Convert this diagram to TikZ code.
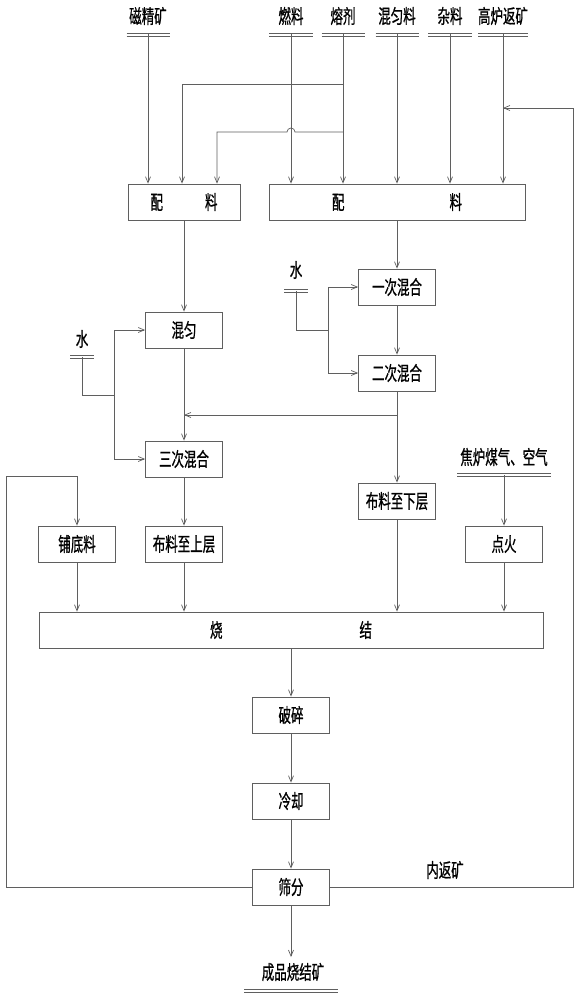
\documentclass[tikz,border=0pt]{standalone}
\usepackage{fontspec}
\newfontfamily\cjk[FakeStretch=0.64,FakeBold=0.8]{Noto Sans CJK SC}
\usetikzlibrary{arrows.meta}
\definecolor{linegray}{RGB}{95,95,95}
\newcommand\dblbar[2]{%
  \draw[link] ([xshift=-#2pt,yshift=1.6pt]#1) -- ([xshift=#2pt,yshift=1.6pt]#1)
              ([xshift=-#2pt,yshift=-1.6pt]#1) -- ([xshift=#2pt,yshift=-1.6pt]#1);}
\begin{document}
\begin{tikzpicture}[x=1pt,y=-1pt,
  box/.style={draw=linegray,line width=0.8pt,minimum height=36pt,minimum width=77pt,inner sep=0pt,font=\cjk\fontsize{19.5}{21}\selectfont},
  lbl/.style={inner sep=0pt,font=\cjk\fontsize{19.5}{21}\selectfont},
  link/.style={draw=linegray,line width=0.7pt},
  flow/.style={link,-{Straight Barb[length=6pt,width=5pt]}},
]
\useasboundingbox (0,0) rectangle (579,1000);
\fill[white] (0,0) rectangle (579,1000);

% boxes
\node[box,minimum width=112pt] (pj1) at (184,202) {配\hspace{42pt}料};
\node[box,minimum width=256pt] (pj2) at (397,202) {配\hspace{105pt}料};
\node[box] (mix1) at (397,287) {一次混合};
\node[box] (mix2) at (397,373) {二次混合};
\node[box] (hy) at (184,330) {混匀};
\node[box] (mix3) at (184,459) {三次混合};
\node[box] (bxc) at (397,501) {布料至下层};
\node[box] (pdl) at (77,544) {铺底料};
\node[box] (bsc) at (184,544) {布料至上层};
\node[box] (dh) at (504,544) {点火};
\node[box,minimum width=504pt] (sj) at (291,630) {烧\hspace{137pt}结};
\node[box] (ps) at (291,715) {破碎};
\node[box] (lq) at (291,801) {冷却};
\node[box] (sf) at (291,887) {筛分};

% input labels
\node[lbl] (t1) at (148,16) {磁精矿};
\node[lbl] (t2) at (291,16) {燃料};
\node[lbl] (t3) at (343,16) {熔剂};
\node[lbl] (t4) at (397,16) {混匀料};
\node[lbl] (t5) at (450,16) {杂料};
\node[lbl] (t6) at (503,16) {高炉返矿};
\coordinate (b1) at (148,34.5);
\coordinate (b2) at (291,34.5);
\coordinate (b3) at (343,34.5);
\coordinate (b4) at (397,34.5);
\coordinate (b5) at (450,34.5);
\coordinate (b6) at (503,34.5);
\dblbar{b1}{21.5}
\dblbar{b2}{22}
\dblbar{b3}{21.5}
\dblbar{b4}{21.5}
\dblbar{b5}{22}
\dblbar{b6}{25}

\draw[flow] (b1) -- (b1 |- pj1.north);
\draw[flow] (b2) -- (b2 |- pj2.north);
\draw[flow] (b3) -- (b3 |- pj2.north);
\draw[flow] (b4) -- (b4 |- pj2.north);
\draw[flow] (b5) -- (b5 |- pj2.north);
\draw[flow] (b6) -- (b6 |- pj2.north);

% flux branches
\coordinate (k1) at (343,84);
\coordinate (k2) at (343,132);
\coordinate (a1) at (182,84);
\coordinate (a2) at (217,132);
\draw[flow] (k1) -- (a1) -- (a1 |- pj1.north);
\draw[flow] (k2) -- ([xshift=4pt]k2 -| b2) arc[start angle=0,end angle=-180,radius=4] -- (a2) -- (a2 |- pj1.north);

% water labels
\node[lbl] (w1) at (82,339) {水};
\coordinate (w1b) at (82,357);
\dblbar{w1b}{12}
\coordinate (j1) at (114,395);
\draw[link] (w1b) |- (j1);
\draw[flow] (j1) |- (hy.west);
\draw[flow] (j1) |- (mix3.west);

\node[lbl] (w2) at (296,270) {水};
\coordinate (w2b) at (296,291);
\dblbar{w2b}{12}
\coordinate (j2) at (328,330);
\draw[link] (w2b) |- (j2);
\draw[flow] (j2) |- (mix1.west);
\draw[flow] (j2) |- (mix2.west);

% main flows
\draw[flow] (pj1.south) -- (hy.north);
\draw[flow] (pj2.south) -- (mix1.north);
\draw[flow] (mix1) -- (mix2);
\draw[flow] (hy) -- (mix3);
\draw[flow] (mix2) -- (bxc);
\coordinate (m2j) at (397,415);
\draw[flow] (m2j) -- (m2j -| hy.south);
\draw[flow] (mix3) -- (bsc);
\draw[flow] (pdl.south) -- (pdl.south |- sj.north);
\draw[flow] (bsc.south) -- (bsc.south |- sj.north);
\draw[flow] (bxc.south) -- (bxc.south |- sj.north);
\draw[flow] (dh.south) -- (dh.south |- sj.north);

% gas
\node[lbl] (gas) at (504,457) {焦炉煤气、空气};
\coordinate (gb) at (504,475);
\dblbar{gb}{47}
\draw[flow] (gb) -- (dh.north);

\draw[flow] (sj.south -| ps.north) -- (ps.north);
\draw[flow] (ps) -- (lq);
\draw[flow] (lq) -- (sf);

% product
\node[lbl] (prod) at (293,972) {成品烧结矿};
\coordinate (pb) at (291,991);
\dblbar{pb}{47}
\coordinate (pe) at (291,957);
\draw[flow] (sf.south) -- (pe);

% returns
\coordinate (lc) at (6,476);
\draw[flow] (sf.west) -| (lc) -| (pdl.north);
\coordinate (rc) at (573,108);
\draw[flow] (sf.east) -| (rc) -- (rc -| b6);
\node[lbl] (nf) at (445,870) {内返矿};
\end{tikzpicture}
\end{document}
